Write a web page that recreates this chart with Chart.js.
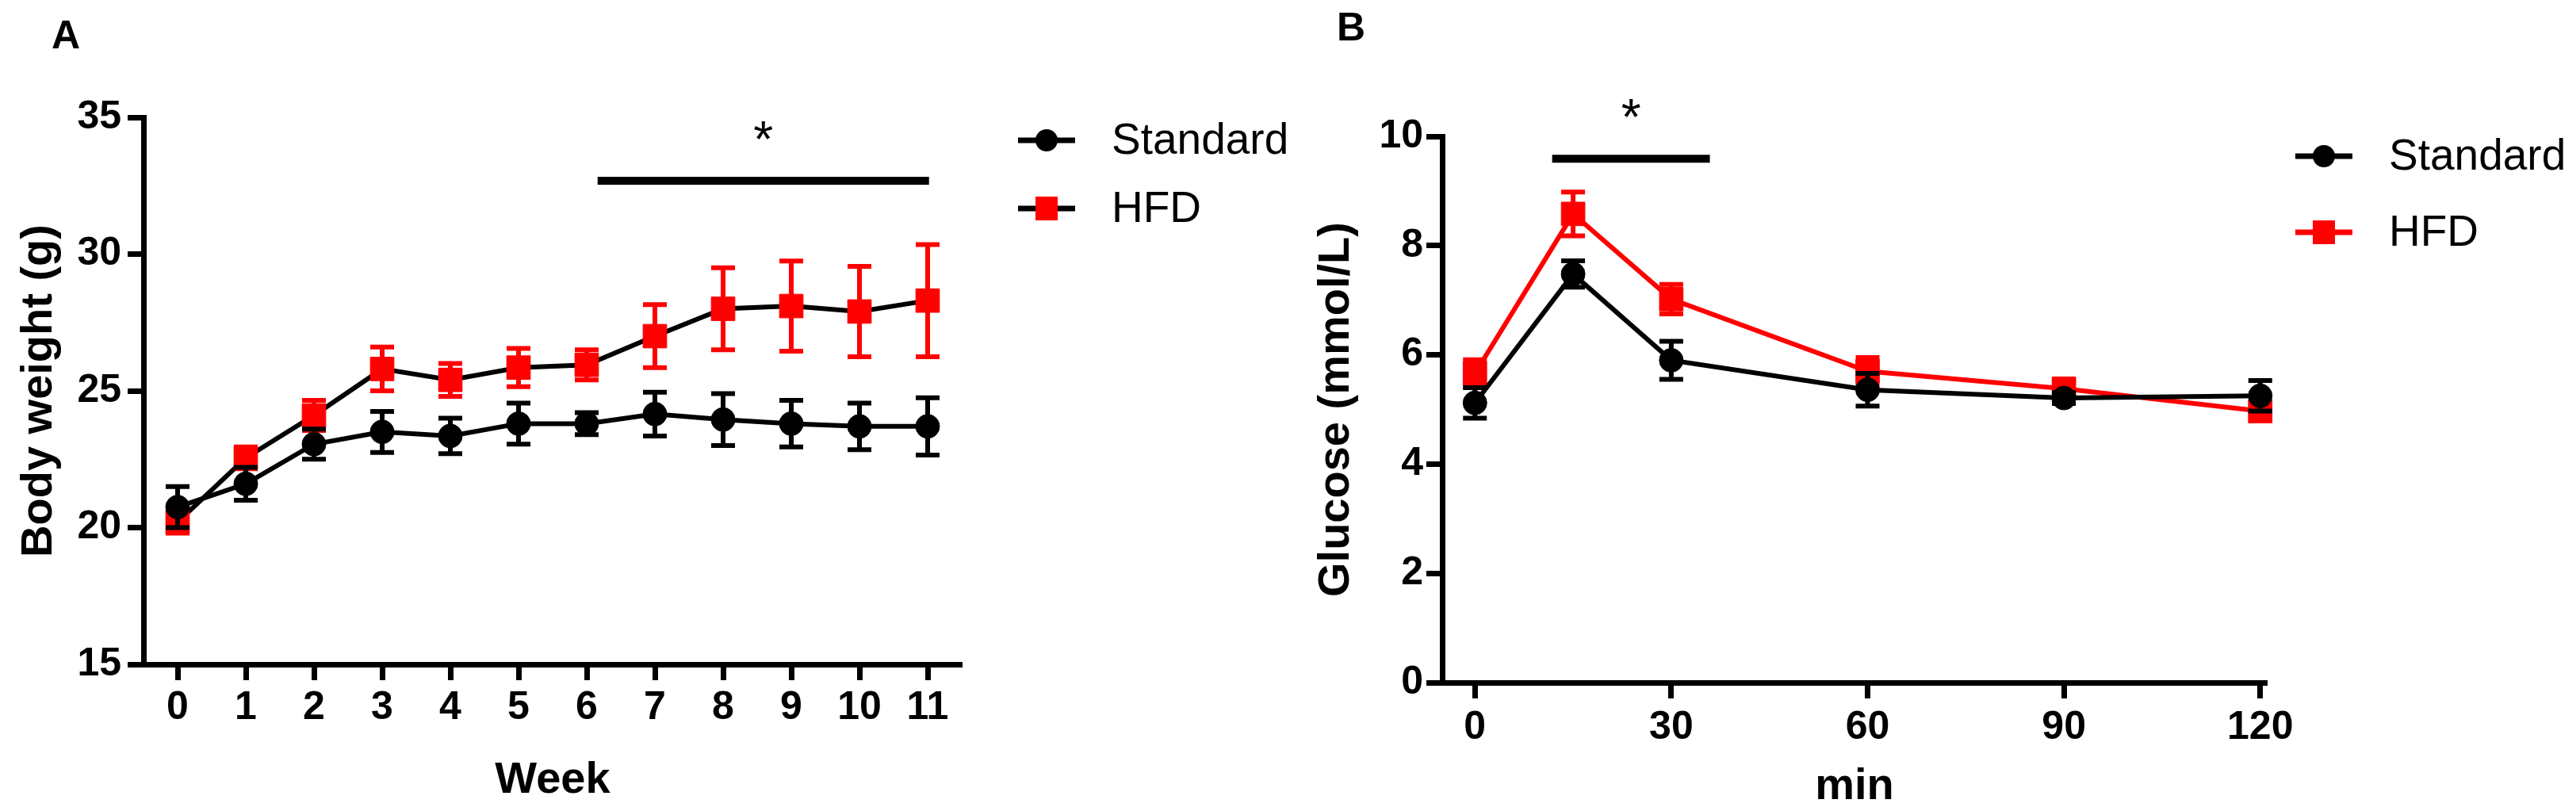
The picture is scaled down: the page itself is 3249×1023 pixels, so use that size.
<!DOCTYPE html>
<html lang="en">
<head>
<meta charset="UTF-8">
<title>Body weight and glucose</title>
<script src="https://cdn.jsdelivr.net/npm/chart.js@4.4.1/dist/chart.umd.min.js"></script>
<style>
   html, body { margin: 0; padding: 0; background: #fff; }
   .wrap { position: relative; width: 3249px; height: 1023px; }
   #panelA { position: absolute; left: 0; top: 0; }
   #panelB { position: absolute; left: 1624px; top: 0; }
</style>
</head>
<body>
<div class="wrap">
   <canvas id="panelA" width="1624" height="1023"></canvas>
   <canvas id="panelB" width="1625" height="1023"></canvas>
</div>
<script>
   // panel A : body weight
   var weeks = [0, 1, 2, 3, 4, 5, 6, 7, 8, 9, 10, 11];
   var stdWeight = [20.75, 21.6, 23.05, 23.5, 23.35, 23.8, 23.8, 24.15, 23.95, 23.8, 23.7, 23.7];
   var stdWeightSem = [0.75, 0.6, 0.55, 0.75, 0.65, 0.75, 0.4, 0.8, 0.95, 0.85, 0.85, 1.05];
   var hfdWeight = [20.2, 22.55, 24.1, 25.8, 25.4, 25.85, 25.95, 27.0, 28.0, 28.1, 27.9, 28.3];
   var hfdWeightSem = [0.4, 0.4, 0.55, 0.8, 0.6, 0.7, 0.55, 1.15, 1.5, 1.65, 1.65, 2.05];
   var weightTicks = [15, 20, 25, 30, 35];
   var sigWeeks = [6.16, 11.02];   // significance bar span
   var sigWeight = 32.68;          // bar level

   // panel B : glucose
   var minutes = [0, 15, 30, 60, 90, 120];
   var minuteTicks = [0, 30, 60, 90, 120];
   var stdGlucose = [5.12, 7.48, 5.9, 5.36, 5.21, 5.25];
   var stdGlucoseSem = [0.28, 0.24, 0.35, 0.3, 0.1, 0.28];
   var hfdGlucose = [5.66, 8.58, 7.02, 5.7, 5.38, 4.97];
   var hfdGlucoseSem = [0.25, 0.4, 0.27, 0.25, 0.15, 0.12];
   var glucoseTicks = [0, 2, 4, 6, 8, 10];
   var sigMinutes = [11.8, 35.9];
   var sigGlucose = 9.59;

   var seriesNames = ['Standard', 'HFD'];
   var FONT = '"Liberation Sans", Arial, Helvetica, sans-serif';
   var RED = '#ff0000';

   function pts(xs, ys) {
      return xs.map(function (x, i) { return { x: x, y: ys[i] }; });
   }

   // error bars, drawn under each dataset
   var errorBars = {
      id: 'errorBars',
      beforeDatasetDraw: function (chart, args) {
         var ds = chart.data.datasets[args.index];
         if (!ds.sem) return;
         var ctx = chart.ctx, ys = chart.scales.y, xs = chart.scales.x;
         ctx.save();
         ctx.strokeStyle = ds.pointBackgroundColor;
         ctx.lineWidth = 6;
         ctx.lineCap = 'butt';
         ds.data.forEach(function (p, i) {
            var px = xs.getPixelForValue(p.x);
            var top = ys.getPixelForValue(p.y + ds.sem[i]);
            var bot = ys.getPixelForValue(p.y - ds.sem[i]);
            ctx.beginPath();
            ctx.moveTo(px, top); ctx.lineTo(px, bot);
            ctx.moveTo(px - 15, top); ctx.lineTo(px + 15, top);
            ctx.moveTo(px - 15, bot); ctx.lineTo(px + 15, bot);
            ctx.stroke();
         });
         ctx.restore();
      }
   };

   // panel letter, significance bar and legend
   var extras = {
      id: 'extras',
      afterDraw: function (chart, args, o) {
         var ctx = chart.ctx, xs = chart.scales.x, ys = chart.scales.y;
         ctx.save();
         ctx.fillStyle = '#000';
         ctx.textBaseline = 'middle';
         ctx.textAlign = 'center';
         ctx.font = 'bold 50px ' + FONT;
         ctx.fillText(o.letter, o.letterX, o.letterY);

         // significance
         var x1 = xs.getPixelForValue(o.sig[0]), x2 = xs.getPixelForValue(o.sig[1]);
         var yb = ys.getPixelForValue(o.sigY);
         ctx.fillRect(x1, yb - 5, x2 - x1, 10);
         ctx.font = '64px ' + FONT;
         ctx.textBaseline = 'alphabetic';
         ctx.fillText('*', (x1 + x2) / 2, yb - 30);

         // legend
         ctx.textAlign = 'left';
         ctx.textBaseline = 'middle';
         ctx.font = '55px ' + FONT;
         chart.data.datasets.forEach(function (ds, i) {
            var cy = o.legY + i * o.legStep, cx = o.legX;
            ctx.strokeStyle = ds.borderColor;
            ctx.lineWidth = 7;
            ctx.beginPath();
            ctx.moveTo(cx - 36, cy); ctx.lineTo(cx + 36, cy);
            ctx.stroke();
            ctx.fillStyle = ds.pointBackgroundColor;
            if (ds.pointStyle === 'circle') {
               ctx.beginPath();
               ctx.arc(cx, cy, 14, 0, Math.PI * 2);
               ctx.fill();
            } else {
               ctx.fillRect(cx - 14, cy - 15, 28, 30);
            }
            ctx.fillStyle = '#000';
            ctx.fillText(ds.label, o.legX + 82, cy + 2);
         });
         ctx.restore();
      }
   };

   function axisY(min, max, step, title, width, titlePad, labPad) {
      return {
         type: 'linear', min: min, max: max,
         ticks: { stepSize: step, color: '#000', padding: labPad, font: { family: FONT, size: 50, weight: 'bold' } },
         grid: { display: true, drawOnChartArea: false, drawTicks: true, tickLength: 20, tickWidth: 7, tickColor: '#000' },
         border: { display: true, color: '#000', width: 7 },
         title: { display: true, text: title, color: '#000', padding: { top: titlePad, bottom: 0 }, font: { family: FONT, size: 56, weight: 'bold' } },
         afterFit: function (s) { s.width = width; }
      };
   }

   function axisX(min, max, tickVals, title, height, titlePad, labPad) {
      return {
         type: 'linear', min: min, max: max,
         afterBuildTicks: function (s) { s.ticks = tickVals.map(function (v) { return { value: v }; }); },
         ticks: { color: '#000', padding: labPad, maxRotation: 0, autoSkip: false, font: { family: FONT, size: 50, weight: 'bold' } },
         grid: { display: true, drawOnChartArea: false, drawTicks: true, tickLength: 20, tickWidth: 7, tickColor: '#000' },
         border: { display: true, color: '#000', width: 7 },
         title: { display: true, text: title, color: '#000', padding: { top: 0, bottom: titlePad }, font: { family: FONT, size: 56, weight: 'bold' } },
         afterFit: function (s) { s.height = height; }
      };
   }

   function lineSet(label, data, sem, lineColor, markColor, style, radius) {
      return {
         label: label,
         data: data,
         sem: sem,
         borderColor: lineColor,
         borderWidth: 6,
         tension: 0,
         pointStyle: style,
         pointRadius: radius,
         pointHoverRadius: radius,
         pointBackgroundColor: markColor,
         pointBorderColor: markColor,
         pointBorderWidth: 1,
         clip: false
      };
   }

   var commonPlugins = { legend: { display: false }, tooltip: { enabled: false } };

   new Chart(document.getElementById('panelA').getContext('2d'), {
      type: 'line',
      plugins: [errorBars, extras],
      data: {
         datasets: [
            lineSet(seriesNames[0], pts(weeks, stdWeight), stdWeightSem, '#000', '#000', 'circle', 15),
            lineSet(seriesNames[1], pts(weeks, hfdWeight), hfdWeightSem, '#000', RED, 'rect', 21)
         ]
      },
      options: {
         responsive: false, animation: false, devicePixelRatio: 1,
         layout: { padding: { top: 148, right: 411, left: 0, bottom: 0 } },
         plugins: Object.assign({
            extras: { letter: 'A', letterX: 83, letterY: 47, sig: sigWeeks, sigY: sigWeight, legX: 1320, legY: 177, legStep: 86 }
         }, commonPlugins),
         scales: {
            x: axisX(-0.5, 11.5, weeks, 'Week', 185, 5, 5),
            y: axisY(weightTicks[0], weightTicks[weightTicks.length - 1], 5, 'Body weight (g)', 181, 16, 8)
         }
      }
   });

   new Chart(document.getElementById('panelB').getContext('2d'), {
      type: 'line',
      plugins: [errorBars, extras],
      data: {
         datasets: [
            lineSet(seriesNames[0], pts(minutes, stdGlucose), stdGlucoseSem, '#000', '#000', 'circle', 15),
            lineSet(seriesNames[1], pts(minutes, hfdGlucose), hfdGlucoseSem, RED, RED, 'rect', 21)
         ]
      },
      options: {
         responsive: false, animation: false, devicePixelRatio: 1,
         layout: { padding: { top: 172, right: 390, left: 0, bottom: 0 } },
         plugins: Object.assign({
            extras: { letter: 'B', letterX: 80, letterY: 37, sig: sigMinutes, sigY: sigGlucose, legX: 1307, legY: 197, legStep: 96 }
         }, commonPlugins),
         scales: {
            x: axisX(-5, 121, minuteTicks, 'min', 162, -3, 7),
            y: axisY(glucoseTicks[0], glucoseTicks[glucoseTicks.length - 1], 2, 'Glucose (mmol/L)', 195, 28, 4)
         }
      }
   });
</script>
</body>
</html>
